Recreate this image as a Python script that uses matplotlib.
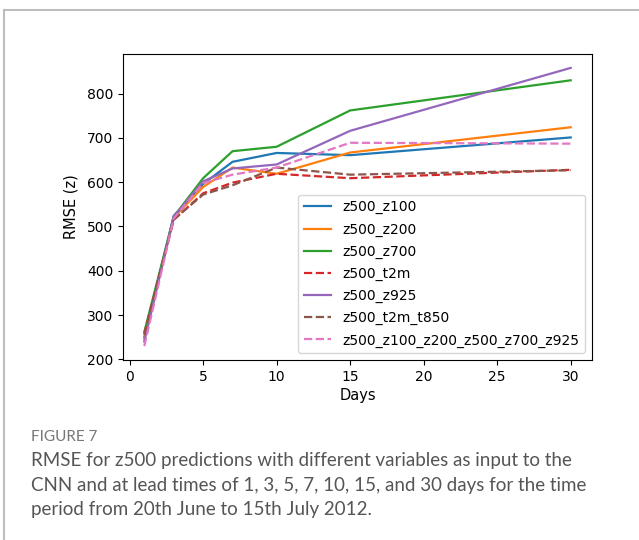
import matplotlib
matplotlib.use("Agg")
import matplotlib.pyplot as plt
from matplotlib.lines import Line2D

# lead times (days) and RMSE of z500 for each input combination
days = [1, 3, 5, 7, 10, 15, 30]
z500_z100 = [250, 524, 596, 646, 666, 661, 701]
z500_z200 = [245, 520, 589, 633, 619, 667, 724]
z500_z700 = [262, 522, 609, 670, 680, 762, 830]
z500_t2m = [258, 515, 575, 599, 619, 609, 628]
z500_z925 = [240, 522, 602, 631, 640, 716, 858]
z500_t2m_t850 = [255, 516, 572, 593, 633, 617, 627]
z500_all = [230, 518, 598, 617, 633, 689, 687]

labels = ['z500_z100', 'z500_z200', 'z500_z700', 'z500_t2m', 'z500_z925',
          'z500_t2m_t850', 'z500_z100_z200_z500_z700_z925']
series = [z500_z100, z500_z200, z500_z700, z500_t2m, z500_z925, z500_t2m_t850, z500_all]
styles = ['-', '-', '-', '--', '-', '--', '--']
cols = ['C0', 'C1', 'C2', 'C3', 'C4', 'C5', 'C6']

caption_head = "FIGURE 7"
caption = ("RMSE for z500 predictions with different variables as input to the\n"
           "CNN and at lead times of 1, 3, 5, 7, 10, 15, and 30 days for the time\n"
           "period from 20th June to 15th July 2012.")

W, H = 639, 540
fig = plt.figure(figsize=(W / 100, H / 100), dpi=100)
fig.patch.set_facecolor('white')

# card border (top and left edges)
fig.add_artist(Line2D([4 / W, 1], [1 - 10 / H, 1 - 10 / H], color='#bdbdbd', lw=1.5))
fig.add_artist(Line2D([4 / W, 4 / W], [0, 1 - 10 / H], color='#bdbdbd', lw=1.5))

ax = fig.add_axes([123 / W, 1 - 360 / H, (592 - 123) / W, (360 - 54) / H])
for y, lab, ls, c in zip(series, labels, styles, cols):
    ax.plot(days, y, ls, color=c, label=lab, lw=1.6)

ax.set_xticks([0, 5, 10, 15, 20, 25, 30])
ax.set_yticks([200, 300, 400, 500, 600, 700, 800])
ax.tick_params(labelsize=10)
ax.set_xlabel('Days', fontsize=10.5, labelpad=3)
ax.set_ylabel('RMSE (z)', fontsize=10.5, labelpad=6)
ax.legend(loc='lower right', fontsize=10, handlelength=2.0, labelspacing=0.58)

fig.text(31 / W, 1 - 437 / H, caption_head, fontsize=11, color='#777777',
         family='Lato', va='center')
fig.text(31 / W, 1 - 452 / H, caption, fontsize=13.5, color='#555555',
         family='Lato', va='top', linespacing=1.55)

fig.savefig('out.png', dpi=100)
